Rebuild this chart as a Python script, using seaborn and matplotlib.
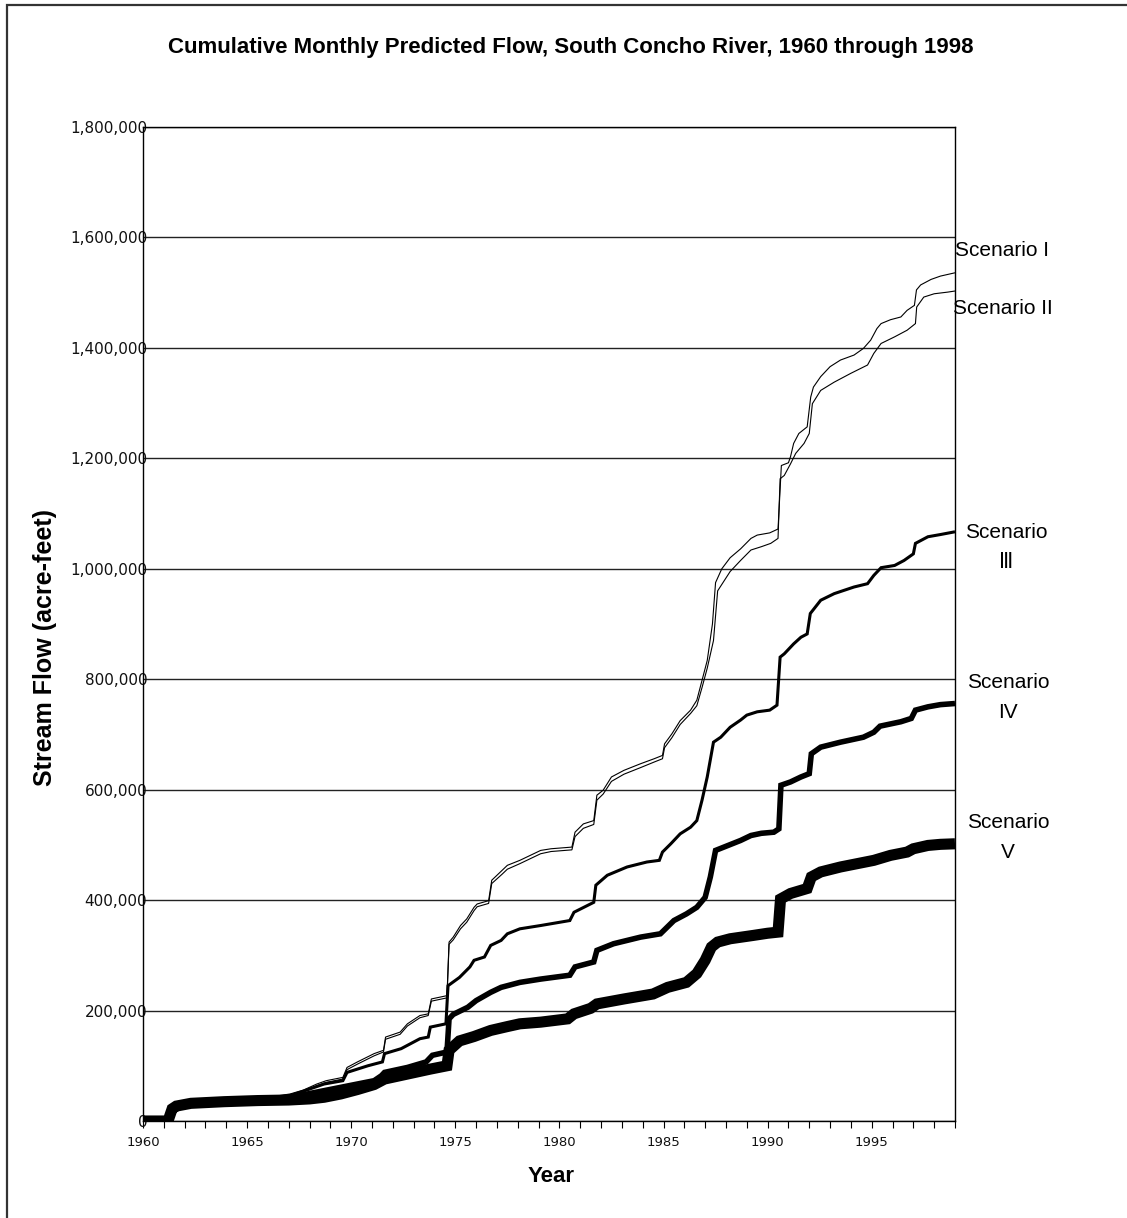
import matplotlib
matplotlib.use("Agg")
import matplotlib.pyplot as plt
import matplotlib.patches as mpatches
from matplotlib.ticker import FuncFormatter, MultipleLocator
import seaborn as sns
import pandas as pd

# ---------------- data ----------------
s1_year = [1960.0, 1961.2, 1961.4, 1961.6, 1962.3, 1963.9, 1965.5, 1967.07, 1967.7, 1968.35,
           1968.8, 1969.6, 1969.8, 1970.3, 1971.1, 1971.55, 1971.65, 1972.35, 1972.7, 1973.3,
           1973.7, 1973.85, 1974.6, 1974.7, 1974.9, 1975.25, 1975.55, 1975.9, 1976.05, 1976.6,
           1976.75, 1977.25, 1977.5, 1978.1, 1978.6, 1979.1, 1979.6, 1980.6, 1980.75, 1981.15,
           1981.65, 1981.8, 1982.1, 1982.5, 1983.1, 1983.9, 1984.55, 1984.95, 1985.05, 1985.4,
           1985.8, 1986.3, 1986.6, 1986.85, 1987.1, 1987.35, 1987.5, 1987.8, 1988.2, 1988.7,
           1989.2, 1989.5, 1990.1, 1990.5, 1990.66, 1991.0, 1991.1, 1991.25, 1991.5, 1991.9,
           1992.07, 1992.2, 1992.55, 1993.0, 1993.5, 1994.15, 1994.6, 1994.95, 1995.25, 1995.45,
           1995.9, 1996.4, 1996.7, 1997.05, 1997.15, 1997.35, 1997.85, 1998.3, 1999.0]
s1_flow = [0, 0, 25000, 30000, 34000, 37000, 40000, 49000, 56000, 67000,
           73000, 79000, 97000, 107000, 122000, 128000, 152000, 161000, 176000, 191000,
           194000, 221000, 227000, 324000, 333000, 354000, 366000, 387000, 393000, 399000,
           436000, 454000, 463000, 472000, 481000, 490000, 493000, 496000, 523000, 538000,
           544000, 590000, 599000, 623000, 635000, 647000, 656000, 662000, 683000, 701000,
           725000, 744000, 762000, 798000, 834000, 900000, 975000, 1000000, 1020000, 1036000,
           1055000, 1061000, 1065000, 1072000, 1187000, 1192000, 1203000, 1227000, 1245000, 1257000,
           1311000, 1329000, 1348000, 1366000, 1378000, 1387000, 1399000, 1414000, 1435000, 1444000,
           1451000, 1456000, 1468000, 1477000, 1505000, 1514000, 1524000, 1530000, 1536000]

s2_year = [1960.0, 1961.2, 1961.4, 1961.6, 1962.3, 1963.9, 1965.5, 1967.07, 1967.7, 1968.35,
           1968.8, 1969.6, 1969.8, 1970.3, 1971.1, 1971.55, 1971.65, 1972.35, 1972.7, 1973.3,
           1973.7, 1973.85, 1974.6, 1974.7, 1974.9, 1975.25, 1975.55, 1975.9, 1976.05, 1976.6,
           1976.75, 1977.25, 1977.5, 1978.1, 1978.6, 1979.1, 1979.6, 1980.6, 1980.75, 1981.15,
           1981.65, 1981.8, 1982.1, 1982.5, 1983.1, 1983.9, 1984.55, 1984.95, 1985.05, 1985.4,
           1985.8, 1986.3, 1986.6, 1986.85, 1987.1, 1987.4, 1987.6, 1988.2, 1988.7, 1989.2,
           1989.7, 1990.15, 1990.5, 1990.6, 1990.8, 1991.1, 1991.35, 1991.75, 1992.0, 1992.15,
           1992.55, 1993.2, 1994.0, 1994.8, 1995.1, 1995.45, 1996.1, 1996.7, 1997.1, 1997.16,
           1997.5, 1998.0, 1998.65, 1999.0]
s2_flow = [0, 0, 25000, 30000, 34000, 37000, 40000, 48000, 54000, 64000,
           70000, 76000, 93000, 103000, 118000, 125000, 148000, 157000, 172000, 187000,
           191000, 217000, 223000, 320000, 328000, 348000, 360000, 381000, 388000, 394000,
           430000, 447000, 456000, 466000, 475000, 484000, 488000, 491000, 515000, 530000,
           537000, 581000, 592000, 615000, 628000, 640000, 650000, 656000, 676000, 694000,
           718000, 738000, 752000, 785000, 820000, 870000, 960000, 995000, 1015000, 1034000,
           1040000, 1046000, 1055000, 1163000, 1169000, 1190000, 1209000, 1227000, 1245000, 1299000,
           1323000, 1338000, 1354000, 1369000, 1390000, 1408000, 1420000, 1432000, 1444000, 1474000,
           1492000, 1498000, 1501000, 1503000]

s3_year = [1960.0, 1961.2, 1961.4, 1961.6, 1962.3, 1963.9, 1965.5, 1967.0, 1967.55, 1968.7,
           1969.6, 1969.8, 1970.8, 1971.5, 1971.6, 1972.4, 1973.3, 1973.7, 1973.8, 1974.55,
           1974.65, 1975.2, 1975.7, 1975.9, 1976.4, 1976.7, 1977.2, 1977.5, 1978.1, 1979.1,
           1980.5, 1980.7, 1981.65, 1981.75, 1982.3, 1983.25, 1984.2, 1984.8, 1984.95, 1985.35,
           1985.8, 1986.3, 1986.6, 1986.85, 1987.1, 1987.4, 1987.75, 1988.2, 1988.7, 1989.0,
           1989.5, 1990.1, 1990.45, 1990.6, 1990.8, 1991.25, 1991.6, 1991.9, 1992.05, 1992.55,
           1993.2, 1994.15, 1994.8, 1995.1, 1995.45, 1996.1, 1996.55, 1997.0, 1997.1, 1997.7,
           1998.3, 1999.0]
s3_flow = [0, 0, 25000, 30000, 34000, 37000, 40000, 45000, 52000, 67000,
           73000, 88000, 100000, 107000, 122000, 131000, 149000, 152000, 170000, 176000,
           245000, 260000, 279000, 291000, 297000, 318000, 327000, 339000, 348000, 354000,
           363000, 378000, 396000, 427000, 445000, 460000, 469000, 472000, 487000, 502000,
           520000, 532000, 544000, 581000, 623000, 686000, 695000, 713000, 726000, 735000,
           741000, 744000, 753000, 840000, 846000, 864000, 876000, 882000, 919000, 943000,
           955000, 967000, 973000, 988000, 1002000, 1006000, 1015000, 1027000, 1046000, 1058000,
           1062000, 1067000]

s4_year = [1960.0, 1961.2, 1961.4, 1961.6, 1962.3, 1963.9, 1965.5, 1967.0, 1967.9, 1969.5,
           1971.1, 1971.45, 1971.6, 1972.7, 1973.6, 1973.9, 1974.6, 1974.7, 1974.9, 1975.6,
           1976.0, 1976.7, 1977.2, 1978.1, 1979.1, 1980.5, 1980.75, 1981.65, 1981.8, 1982.6,
           1983.9, 1984.85, 1985.5, 1986.1, 1986.6, 1987.0, 1987.25, 1987.5, 1987.9, 1988.7,
           1989.2, 1989.7, 1990.3, 1990.54, 1990.64, 1991.1, 1991.6, 1992.0, 1992.1, 1992.55,
           1993.5, 1994.6, 1995.1, 1995.4, 1996.4, 1996.9, 1997.1, 1997.7, 1998.3, 1999.0]
s4_flow = [0, 0, 24000, 29000, 33000, 36000, 38000, 42000, 49000, 61000,
           73000, 82000, 88000, 97000, 107000, 119000, 125000, 185000, 193000, 206000,
           218000, 233000, 242000, 251000, 257000, 264000, 279000, 288000, 309000, 321000,
           333000, 339000, 363000, 375000, 387000, 405000, 442000, 490000, 496000, 508000,
           517000, 521000, 523000, 529000, 608000, 614000, 623000, 629000, 665000, 677000,
           686000, 695000, 704000, 715000, 723000, 729000, 744000, 750000, 754000, 756000]

s5_year = [1960.0, 1961.2, 1961.4, 1961.6, 1962.3, 1963.9, 1965.5, 1967.0, 1968.0, 1968.7,
           1969.5, 1970.3, 1971.1, 1971.6, 1972.7, 1973.8, 1974.6, 1974.7, 1975.2, 1975.9,
           1976.7, 1977.5, 1978.1, 1979.1, 1980.4, 1980.7, 1981.5, 1981.8, 1983.1, 1984.5,
           1985.2, 1986.1, 1986.6, 1987.0, 1987.3, 1987.6, 1988.2, 1989.3, 1990.0, 1990.5,
           1990.62, 1991.1, 1991.9, 1992.1, 1992.55, 1993.5, 1994.3, 1995.1, 1995.9, 1996.7,
           1997.0, 1997.7, 1998.3, 1999.0]
s5_flow = [0, 0, 22000, 27000, 32000, 35000, 37000, 38000, 40000, 43000,
           49000, 57000, 66000, 76000, 85000, 94000, 100000, 128000, 145000, 153000,
           164000, 171000, 176000, 179000, 185000, 194000, 204000, 212000, 221000, 230000,
           242000, 251000, 267000, 291000, 315000, 324000, 330000, 336000, 340000, 342000,
           402000, 412000, 421000, 442000, 451000, 460000, 466000, 472000, 481000, 487000,
           493000, 499000, 501000, 502000]

x_tick_years = [1960, 1965, 1970, 1975, 1980, 1985, 1990, 1995]
y_ticks = [0, 200000, 400000, 600000, 800000, 1000000, 1200000, 1400000, 1600000, 1800000]

scenarios = [
    ("Scenario I", s1_year, s1_flow),
    ("Scenario II", s2_year, s2_flow),
    ("Scenario III", s3_year, s3_flow),
    ("Scenario IV", s4_year, s4_flow),
    ("Scenario V", s5_year, s5_flow),
]
line_widths = {"Scenario I": 0.8, "Scenario II": 0.8, "Scenario III": 2.2,
               "Scenario IV": 4.0, "Scenario V": 8.0}

# ---------------- figure ----------------
sns.set_theme(style="white")
plt.rcParams['font.family'] = ['Liberation Sans', 'DejaVu Sans']
plt.rcParams['text.color'] = 'black'
plt.rcParams['axes.labelcolor'] = 'black'
plt.rcParams['xtick.color'] = 'black'
plt.rcParams['ytick.color'] = 'black'

W, H = 1127, 1218
fig = plt.figure(figsize=(W / 100, H / 100), dpi=100)
fig.patch.set_facecolor("white")

def fx(px):
    return px / W

def fy(py):
    return 1 - py / H

ax = fig.add_axes([fx(143), fy(1121), fx(955) - fx(143), fy(127) - fy(1121)])

for name, yrs, vals in scenarios:
    df = pd.DataFrame({"Year": yrs, "Flow": vals})
    sns.lineplot(data=df, x="Year", y="Flow", ax=ax, color="black",
                 linewidth=line_widths[name], estimator=None, sort=False,
                 solid_joinstyle="miter", solid_capstyle="butt", zorder=3)

ax.set_xlim(1960, 1999)
ax.set_ylim(0, 1800000)
ax.set_yticks(y_ticks)
ax.yaxis.set_major_formatter(FuncFormatter(lambda v, p: f"{int(v):,}"))
ax.set_xticks(x_tick_years)
ax.set_xticklabels([str(y) for y in x_tick_years])
ax.xaxis.set_minor_locator(MultipleLocator(1))
ax.grid(axis="y", color="#222222", linewidth=1.0, zorder=1)
ax.grid(axis="x", visible=False)
ax.tick_params(axis="y", which="both", length=0, pad=-3, labelsize=11,
               labelcolor="#111111", labelfontfamily="DejaVu Sans")
ax.tick_params(axis="x", which="both", direction="out", length=5, width=0.8,
               color="black", bottom=True, labelsize=9.5, pad=6,
               labelcolor="#111111", labelfontfamily="DejaVu Sans")
for s in ax.spines.values():
    s.set_color("black")
    s.set_linewidth(1.0)
ax.set_xlabel("")
ax.set_ylabel("")

# titles / labels
fig.text(fx(571), fy(48), "Cumulative Monthly Predicted Flow, South Concho River, 1960 through 1998",
         ha="center", va="center", fontsize=16, fontweight="bold", color="black")
fig.text(fx(45), fy(648), "Stream Flow (acre-feet)", rotation=90, ha="center", va="center",
         fontsize=18, fontweight="bold", color="black")
fig.text(fx(551), fy(1177), "Year", ha="center", va="center", fontsize=16,
         fontweight="bold", color="black")

# scenario labels
lab_kw = dict(fontsize=15, color="black", family=['Liberation Sans', 'DejaVu Sans'])
fig.text(fx(955), fy(250), "Scenario I", ha="left", va="center", **lab_kw)
fig.text(fx(953), fy(308), "Scenario II", ha="left", va="center", **lab_kw)
fig.text(fx(1006), fy(532), "Scenario", ha="center", va="center", **lab_kw)
fig.text(fx(1006), fy(562), "\u2162", ha="center", va="center", **lab_kw)
fig.text(fx(1008), fy(683), "Scenario", ha="center", va="center", **lab_kw)
fig.text(fx(1008), fy(713), "IV", ha="center", va="center", **lab_kw)
fig.text(fx(1008), fy(822), "Scenario", ha="center", va="center", **lab_kw)
fig.text(fx(1008), fy(852), "V", ha="center", va="center", **lab_kw)

# outer chart frame (cropped at right and bottom as in the reference)
frame = mpatches.Rectangle((fx(7), -0.05), 1.2, fy(5) + 0.05, transform=fig.transFigure,
                           fill=False, edgecolor="#333333", linewidth=1.6, zorder=10)
fig.patches.append(frame)

fig.savefig("out.png", dpi=100, facecolor="white")
